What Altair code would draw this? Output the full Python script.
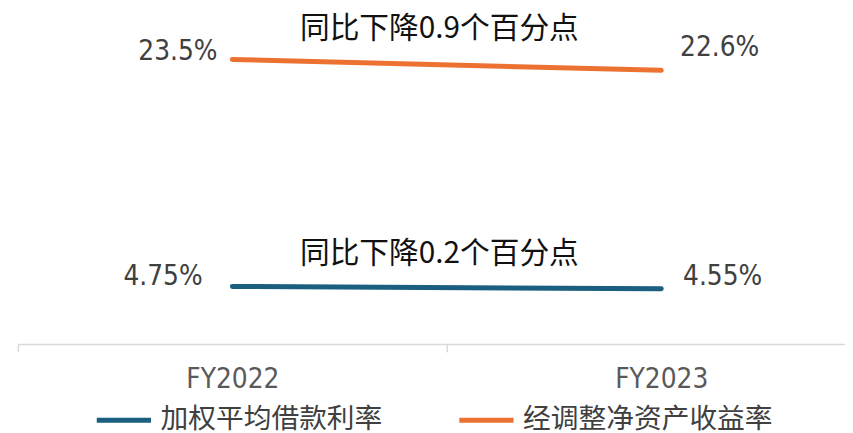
import altair as alt
import pandas as pd

years = ["FY2022", "FY2023"]
series_names = ["加权平均借款利率", "经调整净资产收益率"]
borrow_rate = [4.75, 4.55]
roe = [23.5, 22.6]
borrow_labels = ["4.75%", "4.55%"]
roe_labels = ["23.5%", "22.6%"]
annotations = ["同比下降0.2个百分点", "同比下降0.9个百分点"]
colors = ["#1A5E80", "#ED7231"]

rows = []
for i, y in enumerate(years):
    rows.append({"year": y, "series": series_names[0], "value": borrow_rate[i], "label": borrow_labels[i]})
    rows.append({"year": y, "series": series_names[1], "value": roe[i], "label": roe_labels[i]})
df = pd.DataFrame(rows)

ann = pd.DataFrame({
    "year": [years[0], years[0]],
    "series": series_names,
    "value": [borrow_rate[0], roe[0]],
    "text": annotations,
})

NUM_FONT = "'DejaVu Sans Condensed', 'Liberation Sans Narrow', sans-serif"
CJK_FONT = "Noto Sans CJK SC"

x_enc = alt.X("year:N", sort=years,
              scale=alt.Scale(range=[0, 866], paddingInner=0, paddingOuter=0),
              axis=alt.Axis(title=None, labelAngle=0, tickBand="extent",
                            domainColor="#D9D9D9", domainWidth=1.5,
                            tickColor="#D9D9D9", tickWidth=1.5, tickSize=8,
                            labelFont=NUM_FONT, labelFontSize=28, labelColor="#595959",
                            labelPadding=14, grid=False))
y_enc = alt.Y("value:Q", scale=alt.Scale(domain=[0, 27], nice=False), axis=None)

base = alt.Chart(df)

lines = base.mark_line(strokeWidth=5, strokeCap="round").encode(
    x=x_enc,
    y=y_enc,
    color=alt.Color("series:N", sort=series_names,
                    scale=alt.Scale(domain=series_names, range=colors),
                    legend=alt.Legend(title=None, orient="none", legendX=77, legendY=377,
                                      direction="horizontal", symbolType="stroke",
                                      symbolStrokeWidth=5, symbolSize=3000,
                                      labelFont=CJK_FONT, labelFontSize=28,
                                      labelLimit=500,
                                      labelColor="#404040", columnPadding=66,
                                      labelOffset=7)),
)

def label_layer(year, series, align, dx, dy):
    return base.transform_filter(
        (alt.datum.year == year) & (alt.datum.series == series)
    ).mark_text(align=align, baseline="middle", dx=dx, dy=dy,
                font=NUM_FONT, fontSize=28, color="#404040").encode(
        x=alt.X("year:N", sort=years), y="value:Q", text="label:N")

labels = [
    label_layer(years[0], series_names[1], "right", -15, -7),
    label_layer(years[1], series_names[1], "left", 19, -22),
    label_layer(years[0], series_names[0], "right", -30, -9),
    label_layer(years[1], series_names[0], "left", 22, -12),
]

def ann_layer(series, dy):
    return alt.Chart(ann).transform_filter(alt.datum.series == series).mark_text(
        align="center", baseline="middle", dx=209, dy=dy,
        font=CJK_FONT, fontSize=30, color="#111111").encode(
        x=alt.X("year:N", sort=years), y="value:Q", text="text:N")

anns = [ann_layer(series_names[1], -31), ann_layer(series_names[0], -33)]

chart = alt.layer(lines, *labels, *anns).properties(
    width=835, height=330,
    autosize=alt.AutoSizeParams(type="none"),
    padding={"left": 10, "top": 7, "right": 0, "bottom": 110},
).configure_view(stroke=None)

chart.save("out.html", embed_options={"renderer": "svg", "actions": False})
